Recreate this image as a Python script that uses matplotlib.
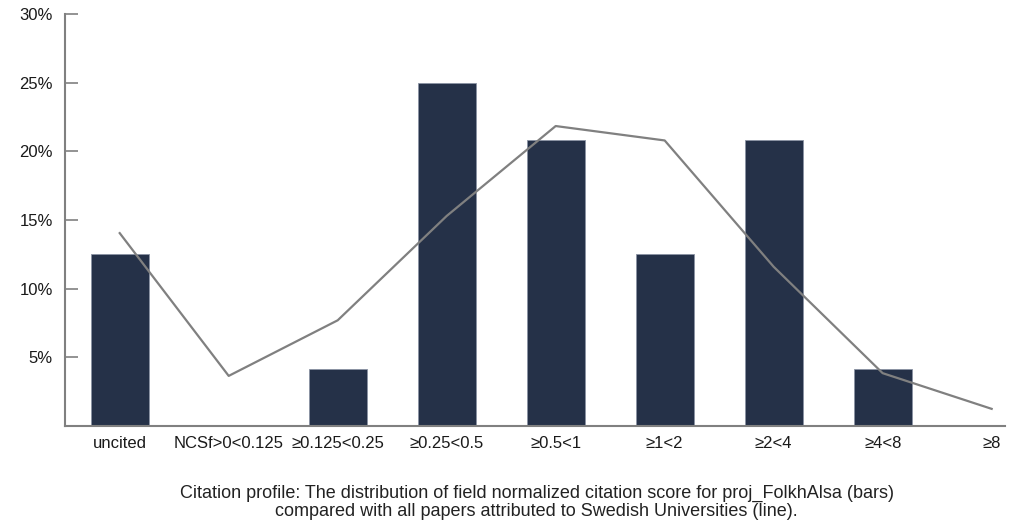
import matplotlib.pyplot as plt
import numpy as np

categories = ['uncited', 'NCSf>0<0.125', '≥0.125<0.25', '≥0.25<0.5', '≥0.5<1',
              '≥1<2', '≥2<4', '≥4<8', '≥8']
bar_values = [12.5, 0, 4.17, 25.0, 20.83, 12.5, 20.83, 4.17, 0]
line_values = [14.05, 3.65, 7.7, 15.3, 21.85, 20.8, 11.6, 3.85, 1.25]
y_ticks = [5, 10, 15, 20, 25, 30]
caption = ['Citation profile: The distribution of field normalized citation score for proj_FolkhAlsa (bars)',
           'compared with all papers attributed to Swedish Universities (line).']

plt.rcParams['font.family'] = ['Liberation Sans', 'DejaVu Sans']

fig = plt.figure(figsize=(10.19, 5.24), dpi=100)
ax = fig.add_axes([0.064, 0.187, 0.922, 0.786])

x = np.arange(len(categories))
ax.bar(x, bar_values, width=0.53, color='#253148', edgecolor='#8a93a3', linewidth=0.6, zorder=2)
ax.plot(x, line_values, color='#808080', linewidth=1.6, zorder=3)

ax.set_xlim(-0.5, 8.12)
ax.set_ylim(0, 30)
ax.set_yticks(y_ticks)
ax.set_yticklabels([f'{v}%' for v in y_ticks], fontsize=12, color='#1a1a1a')
ax.set_xticks(x)
ax.set_xticklabels(categories, fontsize=12, color='#1a1a1a')
ax.tick_params(axis='x', length=0, pad=7)
ax.tick_params(axis='y', direction='in', length=9, width=1.2, color='#808080', pad=9)

for side in ['top', 'right']:
    ax.spines[side].set_visible(False)
for side in ['left', 'bottom']:
    ax.spines[side].set_color('#808080')
    ax.spines[side].set_linewidth(1.5)

# подпись под графиком
fig.text(0.5265, 1 - 493 / 524, caption[0], ha='center', va='center', fontsize=13, color='#222222')
fig.text(0.5265, 1 - 511 / 524, caption[1], ha='center', va='center', fontsize=13, color='#222222')

fig.savefig('out.png', dpi=100)
